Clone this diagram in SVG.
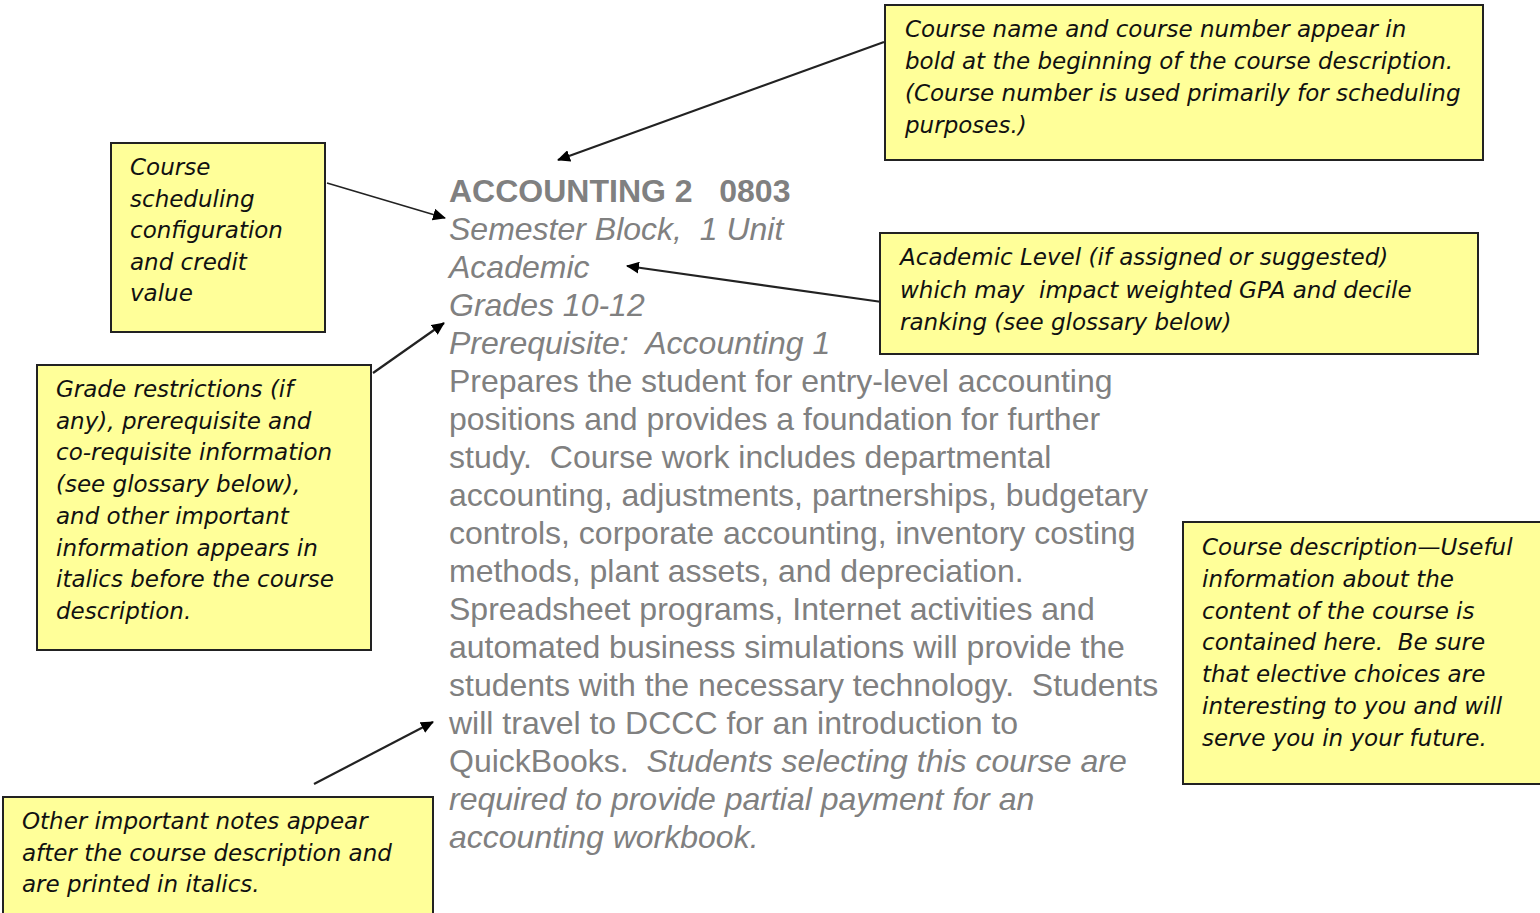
<svg xmlns="http://www.w3.org/2000/svg" width="1540" height="913" viewBox="0 0 1540 913">
<style>
.box{fill:#FFFF99;stroke:#222;stroke-width:2}
.note{font-family:"DejaVu Sans",Verdana,sans-serif;font-style:italic;font-size:23px;fill:#111}
.body{font-family:"Liberation Sans",Arial,sans-serif;font-size:32px;fill:#808080}
.it{font-style:italic}
.conn{stroke:#222;stroke-width:2.2;fill:none;marker-end:url(#ah)}
</style>
<defs>
<marker id="ah" markerUnits="userSpaceOnUse" markerWidth="14" markerHeight="12" refX="12" refY="6" orient="auto">
<path d="M0,0 L13,6 L0,12 Z" fill="#000"/>
</marker>
</defs>
<rect width="1540" height="913" fill="#fff"/>
<g id="connectors">
<line class="conn" x1="884" y1="42" x2="558" y2="160"/>
<line class="conn" x1="327" y1="183" x2="445" y2="218" style="stroke-width:1.6"/>
<line class="conn" x1="882" y1="302" x2="627" y2="266"/>
<line class="conn" x1="373" y1="373" x2="444" y2="323"/>
<line class="conn" x1="314" y1="784" x2="433" y2="722"/>
</g>
<g id="course-text" class="body">
<text x="449" y="202" font-weight="bold">ACCOUNTING 2&#160;&#160; 0803</text>
<text x="449" y="240" class="it">Semester Block,&#160; 1 Unit</text>
<text x="449" y="278" class="it">Academic</text>
<text x="449" y="316" class="it">Grades 10-12</text>
<text x="449" y="354" class="it">Prerequisite:&#160; Accounting 1</text>
<text x="449" y="392">Prepares the student for entry-level accounting</text>
<text x="449" y="430">positions and provides a foundation for further</text>
<text x="449" y="468">study.&#160; Course work includes departmental</text>
<text x="449" y="506">accounting, adjustments, partnerships, budgetary</text>
<text x="449" y="544">controls, corporate accounting, inventory costing</text>
<text x="449" y="582">methods, plant assets, and depreciation.</text>
<text x="449" y="620">Spreadsheet programs, Internet activities and</text>
<text x="449" y="658">automated business simulations will provide the</text>
<text x="449" y="696">students with the necessary technology.&#160; Students</text>
<text x="449" y="734">will travel to DCCC for an introduction to</text>
<text x="449" y="772">QuickBooks.&#160; <tspan class="it">Students selecting this course are</tspan></text>
<text x="449" y="810" class="it">required to provide partial payment for an</text>
<text x="449" y="848" class="it">accounting workbook.</text>
</g>
<g id="note-name">
<rect class="box" x="885" y="5" width="598" height="155"/>
<text class="note" x="905" y="37">Course name and course number appear in</text>
<text class="note" x="905" y="69">bold at the beginning of the course description.</text>
<text class="note" x="905" y="101">(Course number is used primarily for scheduling</text>
<text class="note" x="905" y="133">purposes.)</text>
</g>
<g id="note-scheduling">
<rect class="box" x="111" y="143" width="214" height="189"/>
<text class="note" x="130" y="175">Course</text>
<text class="note" x="130" y="206.5">scheduling</text>
<text class="note" x="130" y="238">configuration</text>
<text class="note" x="130" y="269.5">and credit</text>
<text class="note" x="130" y="301">value</text>
</g>
<g id="note-level">
<rect class="box" x="880" y="233" width="598" height="121"/>
<text class="note" x="900" y="265">Academic Level (if assigned or suggested)</text>
<text class="note" x="900" y="297.5">which may&#160; impact weighted GPA and decile</text>
<text class="note" x="900" y="330">ranking (see glossary below)</text>
</g>
<g id="note-grade">
<rect class="box" x="37" y="365" width="334" height="285"/>
<text class="note" x="56" y="397">Grade restrictions (if</text>
<text class="note" x="56" y="428.7">any), prerequisite and</text>
<text class="note" x="56" y="460.4">co-requisite information</text>
<text class="note" x="56" y="492.1">(see glossary below),</text>
<text class="note" x="56" y="523.8">and other important</text>
<text class="note" x="56" y="555.5">information appears in</text>
<text class="note" x="56" y="587.2">italics before the course</text>
<text class="note" x="56" y="618.9">description.</text>
</g>
<g id="note-description">
<rect class="box" x="1183" y="522" width="360" height="262"/>
<text class="note" x="1202" y="555">Course description—Useful</text>
<text class="note" x="1202" y="586.8">information about the</text>
<text class="note" x="1202" y="618.6">content of the course is</text>
<text class="note" x="1202" y="650.4">contained here.&#160; Be sure</text>
<text class="note" x="1202" y="682.2">that elective choices are</text>
<text class="note" x="1202" y="714">interesting to you and will</text>
<text class="note" x="1202" y="745.8">serve you in your future.</text>
</g>
<g id="note-other">
<rect class="box" x="3" y="797" width="430" height="125"/>
<text class="note" x="22" y="829">Other important notes appear</text>
<text class="note" x="22" y="861">after the course description and</text>
<text class="note" x="22" y="892">are printed in italics.</text>
</g>
</svg>
